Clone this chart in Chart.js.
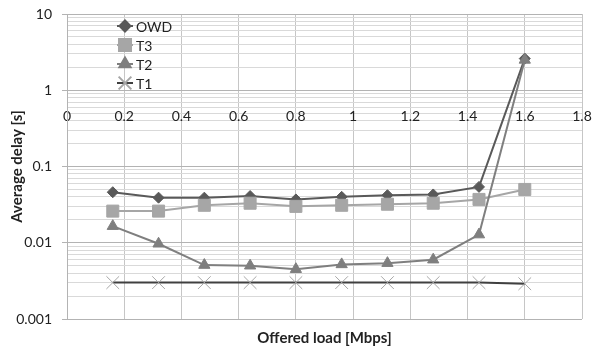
<!DOCTYPE html>
<html>
<head>
<meta charset="utf-8">
<script src="https://cdn.jsdelivr.net/npm/chart.js@4.4.1/dist/chart.umd.min.js"></script>
<style>
  html, body { margin: 0; padding: 0; background: #fff; }
  #wrap { width: 592px; height: 347px; }
</style>
</head>
<body>
<div id="wrap"><canvas id="delayChart" width="592" height="347"></canvas></div>
<script>
// offered load [Mbps]
const loads = [0.16, 0.32, 0.48, 0.64, 0.8, 0.96, 1.12, 1.28, 1.44, 1.6];
// average delay [s]
const owd = [0.046, 0.039, 0.039, 0.041, 0.037, 0.040, 0.042, 0.043, 0.054, 2.6];
const t3  = [0.026, 0.026, 0.031, 0.033, 0.030, 0.031, 0.032, 0.033, 0.037, 0.050];
const t2  = [0.0165, 0.0097, 0.0051, 0.0050, 0.0045, 0.0052, 0.0054, 0.0060, 0.0128, 2.5];
const t1  = [0.0030, 0.0030, 0.0030, 0.0030, 0.0030, 0.0030, 0.0030, 0.0030, 0.0030, 0.0029];
const decades = [0.001, 0.01, 0.1, 1, 10];

const FONT = 'Lato, "Open Sans", sans-serif';
const TEXT = '#222';

const pts = ys => loads.map((x, i) => ({ x, y: ys[i] }));
const isDecade = v => Math.abs(Math.log10(v) - Math.round(Math.log10(v))) < 1e-9;

// legend drawn inside the plot, with line + marker like the spreadsheet one
const insideLegend = {
    id: 'insideLegend',
    afterDatasetsDraw(chart) {
        const { ctx, chartArea } = chart;
        const x = chartArea.left + 58;
        chart.data.datasets.forEach((ds, i) => {
            const y = chartArea.top + 12 + i * 19;
            ctx.save();
            ctx.strokeStyle = ds.borderColor;
            ctx.lineWidth = 2;
            ctx.beginPath();
            ctx.moveTo(x - 8, y);
            ctx.lineTo(x + 8, y);
            ctx.stroke();
            ctx.fillStyle = ds.pointBackgroundColor;
            ctx.strokeStyle = ds.pointBorderColor;
            Chart.helpers.drawPoint(ctx, {
                pointStyle: ds.pointStyle,
                radius: ds.pointRadius,
                borderWidth: ds.pointBorderWidth,
                rotation: 0
            }, x, y);
            ctx.fillStyle = TEXT;
            ctx.font = '14px ' + FONT;
            ctx.textBaseline = 'middle';
            ctx.textAlign = 'left';
            ctx.fillText(ds.label, x + 11, y + 1);
            ctx.restore();
        });
    }
};

const ctx = document.getElementById('delayChart').getContext('2d');
new Chart(ctx, {
    type: 'line',
    data: {
        datasets: [
            {
                label: 'OWD', data: pts(owd), order: 3,
                borderColor: '#595959', borderWidth: 2,
                pointStyle: 'rectRot', pointRadius: 5.5, pointBorderWidth: 1,
                pointBackgroundColor: '#595959', pointBorderColor: '#595959'
            },
            {
                label: 'T3', data: pts(t3), order: 2,
                borderColor: '#a6a6a6', borderWidth: 2,
                pointStyle: 'rect', pointRadius: 8.5, pointBorderWidth: 1,
                pointBackgroundColor: '#a6a6a6', pointBorderColor: '#a6a6a6'
            },
            {
                label: 'T2', data: pts(t2), order: 1,
                borderColor: '#7f7f7f', borderWidth: 2,
                pointStyle: 'triangle', pointRadius: 6.5, pointBorderWidth: 1,
                pointBackgroundColor: '#7f7f7f', pointBorderColor: '#7f7f7f'
            },
            {
                label: 'T1', data: pts(t1), order: 0,
                borderColor: '#404040', borderWidth: 2,
                pointStyle: 'crossRot', pointRadius: 9, pointBorderWidth: 1,
                pointBackgroundColor: '#a6a6a6', pointBorderColor: '#a6a6a6'
            }
        ]
    },
    options: {
        responsive: false,
        animation: false,
        layout: { padding: { left: 0, right: 0, top: 14, bottom: 0 } },
        plugins: {
            legend: { display: false },
            tooltip: { enabled: false }
        },
        scales: {
            x: {
                type: 'linear',
                min: 0, max: 1.8,
                position: { y: 1 },
                afterFit: s => { s.paddingLeft = 0; s.paddingRight = 9; },
                grid: { color: '#c6c6c6', drawTicks: false },
                border: { color: '#b3b3b3' },
                ticks: {
                    stepSize: 0.2, padding: 18,
                    color: TEXT, font: { family: FONT, size: 14 },
                    callback: v => String(+v.toFixed(1))
                }
            },
            xTitle: {
                type: 'linear',
                axis: 'x',
                min: 0, max: 1.8,
                position: 'bottom',
                grid: { display: false },
                border: { display: false },
                ticks: { display: false },
                title: {
                    display: true, text: 'Offered load [Mbps]',
                    color: TEXT, font: { family: FONT, size: 15, weight: 'bold' },
                    padding: { top: 2, bottom: 0 }
                },
                afterFit: s => { s.height = 28; s.paddingLeft = 0; s.paddingRight = 0; }
            },
            y: {
                type: 'logarithmic',
                min: 0.001, max: 10,
                afterBuildTicks: s => {
                    const ticks = [];
                    decades.slice(0, -1).forEach(d => {
                        for (let m = 1; m < 10; m++) ticks.push({ value: +(m * d).toPrecision(6) });
                    });
                    ticks.push({ value: decades[decades.length - 1] });
                    s.ticks = ticks;
                },
                afterFit: s => { s.width = 67; s.paddingTop = 0; s.paddingBottom = 0; },
                grid: {
                    tickLength: 5,
                    color: c => isDecade(c.tick.value) ? '#b3b3b3' : '#d9d9d9',
                    tickColor: c => isDecade(c.tick.value) ? '#b3b3b3' : 'rgba(0,0,0,0)'
                },
                border: { color: '#b3b3b3' },
                ticks: {
                    autoSkip: false, padding: 10,
                    color: TEXT, font: { family: FONT, size: 14 },
                    callback: v => isDecade(v) ? String(v) : ''
                },
                title: {
                    display: true, text: 'Average delay [s]',
                    color: TEXT, font: { family: FONT, size: 15, weight: 'bold' },
                    padding: { top: 8, bottom: 0 }
                }
            }
        }
    },
    plugins: [insideLegend]
});
</script>
</body>
</html>
